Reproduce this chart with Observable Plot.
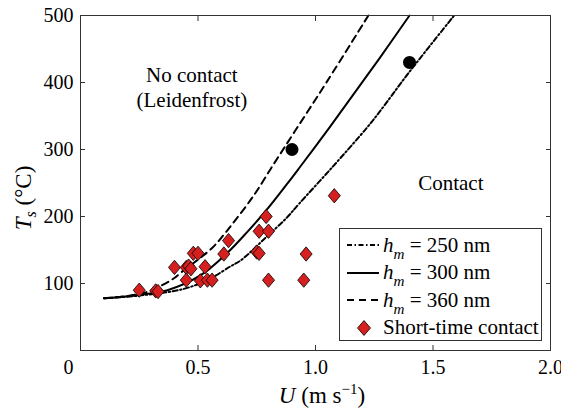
<!DOCTYPE html>
<html><head><meta charset="utf-8">
<script src="https://cdn.jsdelivr.net/npm/d3@7"></script>
<script src="https://cdn.jsdelivr.net/npm/@observablehq/plot@0.6"></script>
<style>
body{margin:0;background:#fff;}
#wrap{position:relative;width:561px;height:412px;font-family:'Liberation Serif';color:#000;}
#legend{position:absolute;left:339px;top:228px;width:203px;height:113px;border:1px solid #333;background:#fff;box-sizing:border-box;padding-top:2.5px;font-size:21px;font-family:'Liberation Serif';}
#legend .row{display:flex;align-items:center;height:27.5px;white-space:nowrap;font-family:'Liberation Serif';}
#legend svg{margin-left:7px;margin-right:4px;flex:none;}
#legend sub{font-size:0.72em;vertical-align:-0.45em;line-height:0;}
svg text, svg tspan{font-family:'Liberation Serif' !important;}
</style></head><body><div id="wrap"><div id="legend"></div></div>
<script>
// h_m = 250 nm (dash-dot)
const u250 = [0.10, 0.25, 0.44, 0.55, 0.64, 0.68, 0.79, 0.88, 0.93, 1.07, 1.22, 1.27, 1.40, 1.59];
const t250 = [78, 82, 92, 107, 126, 134, 169, 199, 219, 273, 333, 355, 416, 500];
// h_m = 300 nm (solid)
const u300 = [0.10, 0.25, 0.37, 0.51, 0.62, 0.71, 0.79, 0.88, 0.93, 1.06, 1.13, 1.27, 1.40];
const t300 = [78, 83, 90, 112, 144, 177, 209, 249, 272, 333, 367, 435, 500];
// h_m = 360 nm (dashed)
const u360 = [0.10, 0.27, 0.39, 0.43, 0.56, 0.615, 0.66, 0.71, 0.75, 0.82, 0.91, 1.05, 1.225];
const t360 = [78, 86, 106, 117, 153, 175, 195, 218, 238, 277, 326, 402, 500];
// Short-time contact (diamonds)
const contactU = [0.25, 0.32, 0.33, 0.40, 0.45, 0.46, 0.47, 0.48, 0.50, 0.45, 0.53, 0.51, 0.54, 0.56, 0.61, 0.63, 0.76, 0.80, 0.79, 0.75, 0.76, 0.96, 0.80, 0.95, 1.08];
const contactT = [90, 89, 88, 124, 124, 126, 122, 145, 145, 105, 125, 104, 105, 105, 144, 164, 178, 178, 200, 147, 145, 144, 105, 105, 231];
// Black circles
const circleU = [0.90, 1.40];
const circleT = [300, 430];
// Region annotations
const noteText = ["No contact\n(Leidenfrost)", "Contact"];
const noteU = [0.474, 1.576];
const noteT = [394, 251];
// Ticks
const xTicks = [0, 0.5, 1.0, 1.5, 2.0];
const yTicks = [100, 200, 300, 400, 500];
const legendLabels = ["250", "300", "360"];

const FONT = "Liberation Serif";
const zip = (a, b) => a.map((v, i) => ({x: v, y: b[i]}));
const RED = "#d61f1f";
const diamond = {
  draw(ctx, size) {
    const s = Math.sqrt(size / Math.PI);
    const h = s * 1.1, w = s * 0.93;
    ctx.moveTo(0, -h); ctx.lineTo(w, 0); ctx.lineTo(0, h); ctx.lineTo(-w, 0); ctx.closePath();
  }
};
const lineStyle = {stroke: "#000", strokeWidth: 2, curve: "catmull-rom"};

const plot = Plot.plot({
  width: 561, height: 412,
  marginLeft: 80, marginRight: 11, marginTop: 15, marginBottom: 62,
  x: {domain: [0, 2]},
  y: {domain: [0, 500]},
  style: {fontFamily: FONT, fontSize: "20px", color: "#000", background: "transparent"},
  marks: [
    Plot.axisY(yTicks, {anchor: "left", tickSize: 5, insetLeft: 5, tickPadding: 7, label: null, stroke: "#333", fontFamily: FONT}),
    Plot.axisY(yTicks, {anchor: "right", tickSize: 5, insetRight: 5, tickFormat: () => "", label: null, stroke: "#333"}),
    Plot.axisX(xTicks, {anchor: "bottom", tickSize: 5, insetBottom: 5, tickPadding: 9, label: null, stroke: "#333", fontFamily: FONT,
      tickFormat: d => d === 0 ? "0" : d.toFixed(1)}),
    Plot.axisX(xTicks, {anchor: "top", tickSize: 5, insetTop: 5, tickFormat: () => "", label: null, stroke: "#333"}),
    Plot.line(zip(u250, t250), {x: "x", y: "y", ...lineStyle, strokeDasharray: "5,2.5,1.5,2.5"}),
    Plot.line(zip(u300, t300), {x: "x", y: "y", ...lineStyle}),
    Plot.line(zip(u360, t360), {x: "x", y: "y", ...lineStyle, strokeDasharray: "7,5"}),
    Plot.dot(zip(contactU, contactT), {x: "x", y: "y", r: 6.5, symbol: diamond, fill: RED, stroke: "#000", strokeWidth: 0.8}),
    Plot.dot(zip(circleU, circleT), {x: "x", y: "y", r: 6.5, fill: "#000", stroke: "none"}),
    Plot.text(noteText.map((t, i) => ({t, x: noteU[i], y: noteT[i]})), {x: "x", y: "y", text: "t", fontSize: 21, lineHeight: 1.2, fill: "#000", fontFamily: FONT}),
    Plot.frame({stroke: "#333", strokeWidth: 1})
  ]
});

const svg = d3.select(plot);
svg.attr("font-family", FONT);
svg.selectAll("g[aria-label='x-axis tick label'] text")
  .filter(function() { return this.textContent === "0"; })
  .attr("dx", -12);

// Axis titles
const yl = svg.append("text")
  .attr("transform", "translate(31,198) rotate(-90)")
  .attr("text-anchor", "middle")
  .attr("font-size", 23)
  .attr("font-family", FONT)
  .attr("fill", "#000");
yl.append("tspan").attr("font-style", "italic").text("T");
yl.append("tspan").attr("font-style", "italic").attr("font-size", 16).attr("dy", 5).text("s");
yl.append("tspan").attr("dy", -5).text(" (°C)");

const xl = svg.append("text")
  .attr("x", 322).attr("y", 403)
  .attr("text-anchor", "middle")
  .attr("font-size", 23)
  .attr("font-family", FONT)
  .attr("fill", "#000");
xl.append("tspan").attr("font-style", "italic").text("U");
xl.append("tspan").text(" (m s");
xl.append("tspan").attr("font-size", 15).attr("dy", -9).text("−1");
xl.append("tspan").attr("dy", 9).text(")");

const wrap = document.getElementById("wrap");
wrap.insertBefore(plot, wrap.firstChild);

// Legend
const legend = d3.select("#legend");
const dashes = ["5,2.5,1.5,2.5", null, "7,5"];
legendLabels.forEach((lab, i) => {
  const row = legend.append("div").attr("class", "row");
  const s = row.append("svg").attr("width", 32).attr("height", 10);
  s.append("line").attr("x1", 0).attr("x2", 32).attr("y1", 5).attr("y2", 5)
    .attr("stroke", "#000").attr("stroke-width", 2).attr("stroke-dasharray", dashes[i]);
  row.append("span").html(`<i>h</i><sub><i>m</i></sub> = ${lab} nm`);
});
{
  const row = legend.append("div").attr("class", "row");
  const s = row.append("svg").attr("width", 32).attr("height", 18);
  s.append("path").attr("d", "M17,1.5L23.5,9L17,16.5L10.5,9Z").attr("fill", RED).attr("stroke", "#000").attr("stroke-width", 0.8);
  row.append("span").text("Short-time contact");
}
plot.style.position = "absolute";
plot.style.left = "0"; plot.style.top = "0";
</script>
</body></html>
